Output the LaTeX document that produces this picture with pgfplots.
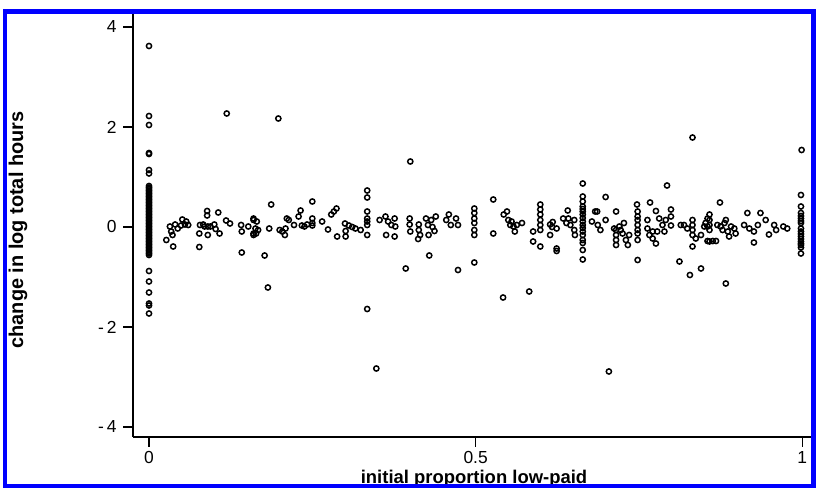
\documentclass[border=0pt]{standalone}
\usepackage{pgfplots}
\pgfplotsset{compat=1.18}
\usepackage{fontspec}
\setmainfont{Liberation Sans}
\definecolor{frameblue}{RGB}{0,0,255}
\begin{document}
\begin{tikzpicture}[x=1bp,y=1bp]
\useasboundingbox (0,0) rectangle (816,488);
\begin{axis}[
 at={(133bp,51bp)}, anchor=south west,
 scale only axis, width=681bp, height=425bp,
 xmin=-0.0245, xmax=1.018, ymin=-4.2, ymax=4.3,
 axis x line=bottom, axis y line=left,
 axis line style={-, line width=1.3bp, black},
 tick align=outside, major tick length=10bp,
 tick style={line width=1.3bp, black},
 xtick={0,0.5,1}, xticklabels={0,0.5,1},
 ytick={-4,-2,0,2,4}, yticklabels={-\,4,-\,2,0,2,4},
 ticklabel style={font=\fontsize{17.5}{18}\selectfont},
 yticklabel style={xshift=-3bp},
 xticklabel style={yshift=-1bp},
 xlabel={initial proportion low-paid},
 ylabel={change in log total hours},
 xlabel style={font=\bfseries\fontsize{18.5}{20}\selectfont, at={(axis description cs:0.5007,-0.1106)}, anchor=base, inner sep=0pt},
 ylabel style={font=\bfseries\fontsize{20}{22}\selectfont, at={(axis description cs:-0.1615,0.487)}, anchor=base, inner sep=0pt},
 clip=false,
]
\addplot[only marks, mark=o, mark size=2.6bp, mark options={line width=1.5bp, black}] table {
x y
0 3.62
0 2.22
0 2.04
0 1.48
0 1.46
0 1.14
0 1.07
0 0.82
0 0.79
0 0.76
0 0.73
0 0.70
0 0.67
0 0.64
0 0.61
0 0.58
0 0.55
0 0.52
0 0.49
0 0.46
0 0.43
0 0.40
0 0.37
0 0.34
0 0.31
0 0.28
0 0.25
0 0.22
0 0.19
0 0.16
0 0.13
0 0.10
0 0.07
0 0.04
0 0.01
0 -0.02
0 -0.05
0 -0.08
0 -0.11
0 -0.14
0 -0.17
0 -0.20
0 -0.23
0 -0.26
0 -0.29
0 -0.32
0 -0.35
0 -0.38
0 -0.41
0 -0.44
0 -0.47
0 -0.50
0 -0.53
0 -0.56
0 -0.88
0 -1.09
0 -1.31
0 -1.53
0 -1.57
0 -1.73
0.0265 -0.26
0.037 -0.39
0.032 0.01
0.034 -0.09
0.036 -0.16
0.040 0.05
0.044 -0.03
0.049 0.03
0.051 0.15
0.055 0.05
0.057 0.11
0.060 0.04
0.077 -0.40
0.078 0.04
0.077 -0.13
0.083 0.05
0.085 0.01
0.089 0.23
0.089 0.32
0.090 0.01
0.094 0.01
0.090 -0.16
0.100 0.05
0.102 -0.04
0.106 0.29
0.108 -0.13
0.118 0.13
0.124 0.07
0.119 2.27
0.141 0.04
0.142 -0.09
0.142 -0.51
0.152 0.01
0.160 0.14
0.160 -0.13
0.160 0.17
0.165 0.11
0.163 -0.03
0.167 -0.06
0.164 -0.13
0.160 -0.16
0.177 -0.57
0.182 -1.21
0.187 0.45
0.184 -0.03
0.198 2.17
0.200 -0.06
0.204 -0.09
0.208 -0.16
0.209 -0.03
0.211 0.17
0.214 0.14
0.222 0.04
0.229 0.21
0.232 0.33
0.234 0.03
0.238 0.01
0.242 0.05
0.250 0.51
0.250 0.17
0.250 0.08
0.250 0.03
0.265 0.11
0.274 -0.05
0.279 0.25
0.283 0.31
0.287 0.37
0.288 -0.19
0.300 0.07
0.301 -0.08
0.301 -0.19
0.306 0.03
0.311 0.00
0.316 -0.03
0.324 -0.06
0.334 0.73
0.334 0.59
0.334 0.31
0.334 0.17
0.334 0.11
0.334 0.04
0.334 -0.16
0.334 -1.64
0.348 -2.83
0.353 0.14
0.362 0.21
0.366 0.11
0.371 0.04
0.376 0.17
0.377 0.01
0.363 -0.16
0.376 -0.19
0.393 -0.83
0.400 1.31
0.399 0.17
0.399 0.05
0.400 -0.09
0.413 0.05
0.413 -0.06
0.412 -0.24
0.415 -0.16
0.424 0.17
0.427 0.04
0.428 -0.16
0.429 -0.57
0.432 0.14
0.434 0.00
0.439 0.21
0.437 -0.08
0.455 0.14
0.459 0.25
0.462 0.04
0.470 0.17
0.473 0.04
0.473 -0.86
0.498 0.37
0.498 0.28
0.498 0.17
0.498 0.08
0.498 -0.06
0.498 -0.16
0.498 -0.71
0.527 0.55
0.527 -0.13
0.543 0.25
0.548 0.31
0.550 0.14
0.555 0.11
0.553 0.04
0.558 0.01
0.563 0.04
0.560 -0.09
0.571 0.08
0.542 -1.41
0.582 -1.29
0.588 -0.09
0.588 -0.29
0.599 0.45
0.599 0.35
0.599 0.25
0.599 0.14
0.599 0.04
0.599 -0.06
0.599 -0.39
0.614 0.05
0.614 -0.16
0.617 0.00
0.618 0.10
0.624 -0.03
0.624 -0.43
0.624 -0.48
0.634 0.17
0.639 0.08
0.641 0.33
0.642 0.17
0.645 0.04
0.651 0.14
0.651 -0.06
0.652 -0.16
0.664 0.87
0.664 0.61
0.664 0.51
0.664 0.41
0.664 0.36
0.664 0.31
0.664 0.25
0.664 0.18
0.664 0.11
0.664 0.04
0.664 -0.02
0.664 -0.09
0.664 -0.16
0.664 -0.26
0.664 -0.32
0.664 -0.46
0.664 -0.65
0.683 0.31
0.678 0.11
0.686 0.31
0.687 0.04
0.691 -0.06
0.699 0.60
0.699 0.14
0.704 -2.89
0.715 0.31
0.712 -0.03
0.715 -0.06
0.715 -0.16
0.715 -0.26
0.715 -0.36
0.720 0.01
0.722 -0.06
0.725 -0.13
0.727 0.08
0.730 -0.26
0.733 -0.36
0.735 -0.16
0.747 0.45
0.748 0.31
0.748 0.21
0.748 0.14
0.748 0.04
0.748 -0.06
0.748 -0.13
0.748 -0.26
0.748 -0.66
0.763 0.14
0.763 -0.03
0.766 -0.16
0.771 -0.09
0.771 -0.23
0.776 -0.33
0.778 -0.09
0.776 0.32
0.781 0.17
0.786 0.04
0.789 -0.09
0.791 0.14
0.767 0.49
0.793 0.83
0.799 0.35
0.799 0.21
0.799 0.03
0.812 -0.69
0.814 0.04
0.819 0.04
0.824 -0.03
0.832 1.79
0.832 0.14
0.832 0.04
0.832 -0.06
0.832 -0.16
0.832 -0.39
0.837 -0.23
0.845 -0.16
0.845 -0.83
0.828 -0.96
0.850 0.01
0.858 0.25
0.858 0.14
0.858 0.04
0.858 -0.06
0.858 -0.29
0.855 0.17
0.852 0.08
0.855 0.01
0.855 -0.28
0.863 -0.28
0.868 -0.28
0.874 0.49
0.870 0.04
0.875 0.01
0.878 -0.06
0.881 0.08
0.883 0.14
0.886 -0.09
0.888 -0.19
0.891 0.01
0.896 -0.03
0.898 -0.13
0.883 -1.13
0.911 0.04
0.916 0.28
0.919 -0.03
0.926 -0.31
0.926 -0.09
0.932 0.04
0.936 0.28
0.944 0.14
0.949 -0.15
0.957 0.04
0.960 -0.06
0.971 0.01
0.977 -0.03
0.999 1.54
0.998 0.64
0.998 0.41
0.998 0.28
0.998 0.22
0.998 0.17
0.998 0.12
0.998 0.08
0.998 -0.03
0.998 -0.09
0.998 -0.14
0.998 -0.19
0.998 -0.24
0.998 -0.29
0.998 -0.33
0.998 -0.36
0.998 -0.41
0.998 -0.53
};
\end{axis}
\draw[frameblue, line width=4.5bp] (5,2) rectangle (813.5,476.5);
\end{tikzpicture}
\end{document}
